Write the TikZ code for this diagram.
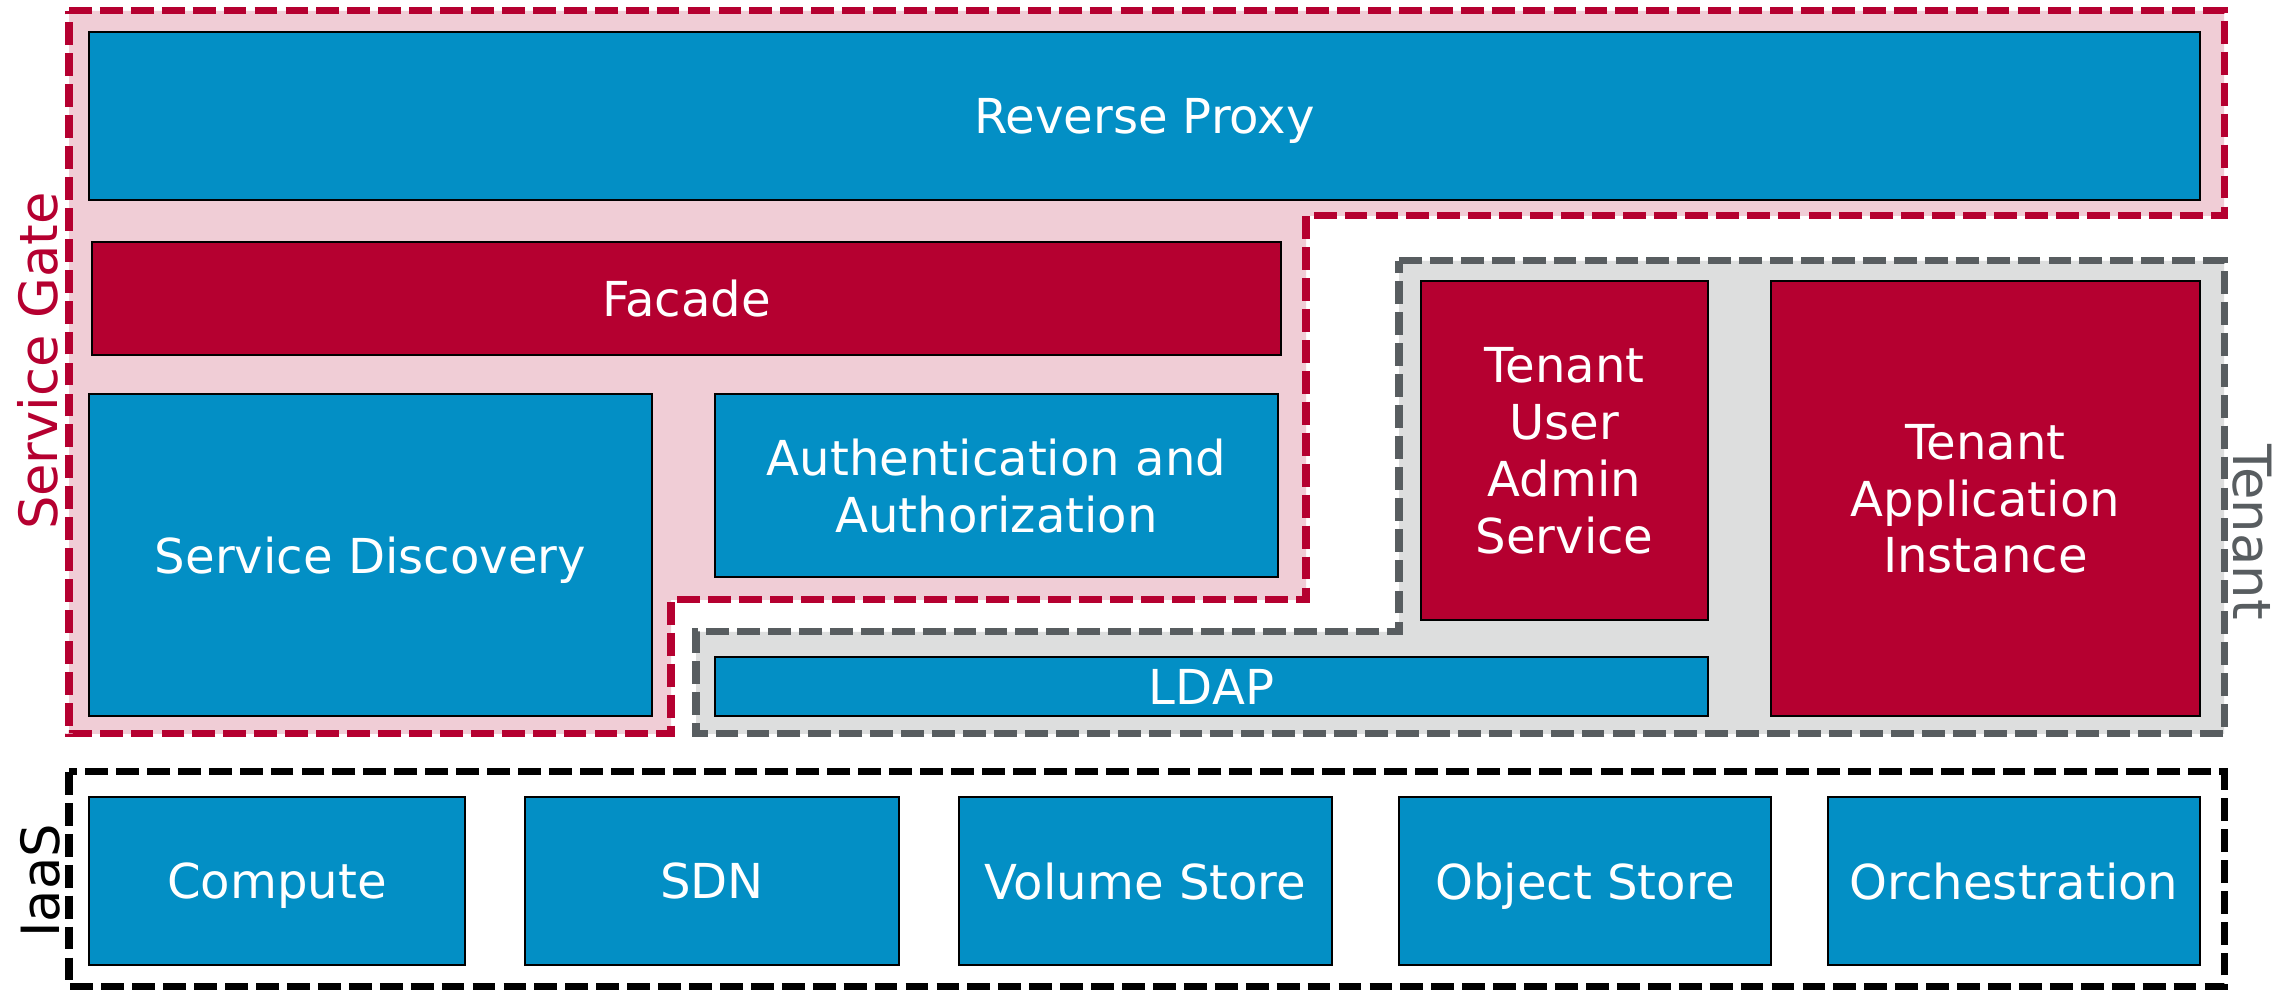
\documentclass[tikz,border=0pt]{standalone}
\usepackage{fontspec}
\setmainfont{DejaVu Sans}

\definecolor{boxblue}{RGB}{3,143,197}
\definecolor{boxred}{RGB}{181,0,48}
\definecolor{gatepink}{RGB}{240,205,214}
\definecolor{tenantgray}{RGB}{221,222,222}
\definecolor{dashgray}{RGB}{88,93,96}

\begin{document}
\begin{tikzpicture}[
	groupline/.style={line width=2pt, dash pattern=on 6.5pt off 2.3pt},
	bluebox/.style={draw=black, line width=0.7pt, fill=boxblue, text=white, inner sep=0pt, text depth=-1.5pt, align=center, font=\fontsize{13.7}{16.2}\selectfont},
	redbox/.style={bluebox, fill=boxred},
	grouplabel/.style={inner sep=0pt, text depth=0pt, font=\fontsize{15}{18}\selectfont}]
			\fill [white] (0,0) rectangle (22.88,9.91);
			\useasboundingbox (0,0) rectangle (22.88,9.91);
			% service gate, tenant and iaas areas
			\draw [groupline, draw=boxred, fill=gatepink] (0.69,9.80) -- (22.24,9.80) -- (22.24,7.75) -- (13.06,7.75) -- (13.06,3.91) -- (6.71,3.91) -- (6.71,2.57) -- (0.69,2.57) -- cycle;
			\draw [groupline, draw=dashgray, fill=tenantgray] (13.99,7.30) -- (22.24,7.30) -- (22.24,2.57) -- (6.96,2.57) -- (6.96,3.59) -- (13.99,3.59) -- cycle;
			\draw [groupline, draw=black] (0.69,2.19) rectangle (22.24,0.04);
			\node [grouplabel, rotate=90, text=boxred] (gatelabel) at (0.37, 6.30) {Service Gate};
			\node [grouplabel, rotate=-90, text=dashgray] (tenantlabel) at (22.53, 4.59) {Tenant};
			\node [grouplabel, rotate=90, text=black] (iaaslabel) at (0.40, 1.10) {IaaS};
			% service gate
			\node [bluebox, minimum width=21.11cm, minimum height=1.68cm] (proxy) at (11.445, 8.75) {Reverse Proxy};
			\node [redbox, minimum width=11.89cm, minimum height=1.13cm] (facade) at (6.865, 6.925) {Facade};
			\node [bluebox, minimum width=5.63cm, minimum height=3.22cm] (discovery) at (3.705, 4.36) {Service Discovery};
			\node [bluebox, minimum width=5.63cm, minimum height=1.83cm] (auth) at (9.965, 5.055) {Authentication and\\Authorization};
			% tenant
			\node [redbox, minimum width=2.87cm, minimum height=3.39cm] (useradmin) at (15.645, 5.405) {Tenant\\User\\Admin\\Service};
			\node [redbox, minimum width=4.29cm, minimum height=4.35cm] (appinstance) at (19.855, 4.925) {Tenant\\Application\\Instance};
			\node [bluebox, minimum width=9.93cm, minimum height=0.59cm] (ldap) at (12.115, 3.045) {LDAP};
			% iaas
			\node [bluebox, minimum width=3.76cm, minimum height=1.68cm] (compute) at (2.77, 1.10) {Compute};
			\node [bluebox, minimum width=3.74cm, minimum height=1.68cm] (sdn) at (7.12, 1.10) {SDN};
			\node [bluebox, minimum width=3.73cm, minimum height=1.68cm] (volume) at (11.455, 1.10) {Volume Store};
			\node [bluebox, minimum width=3.72cm, minimum height=1.68cm] (object) at (15.85, 1.10) {Object Store};
			\node [bluebox, minimum width=3.72cm, minimum height=1.68cm] (orchestration) at (20.14, 1.10) {Orchestration};
	\end{tikzpicture}
\end{document}
